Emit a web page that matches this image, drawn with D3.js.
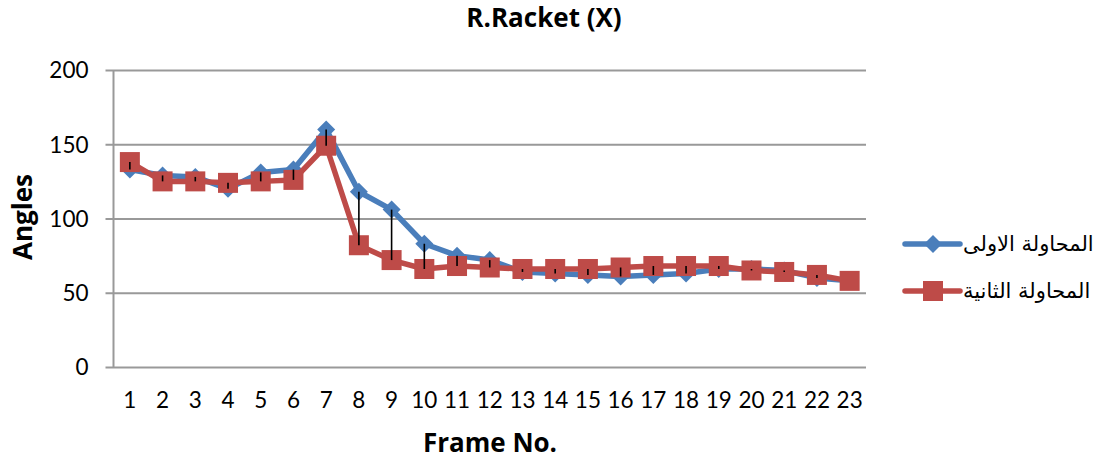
<!DOCTYPE html>
<html>
<head>
<meta charset="utf-8">
<script src="https://cdn.jsdelivr.net/npm/d3@7"></script>
<style>
  html, body { margin: 0; padding: 0; background: #fff; }
  svg { display: block; font-family: Lato, "DejaVu Sans", sans-serif; }
</style>
</head>
<body>
<svg id="chart" width="1098" height="461"></svg>
<script>
// Frame numbers along the x axis
const frames = d3.range(1, 24).map(String);

// Right racket angle (X) per frame, first and second attempt
const attempt1 = [133, 129, 128, 120, 131, 133, 160, 118, 106, 83, 75, 72, 64, 63, 62, 61, 62, 63, 66, 66, 65, 60, 58];
const attempt2 = [138, 125, 125, 124, 125, 126, 149, 82, 72, 66, 68, 67, 66, 66, 66, 67, 68, 68, 68, 65, 64, 62, 58];

const seriesNames = ["المحاولة الاولى", "المحاولة الثانية"];
const yTicks = [0, 50, 100, 150, 200];

const titleText = "R.Racket (X)";
const xTitle = "Frame No.";
const yTitle = "Angles";

const svg = d3.select("#chart");

const x = d3.scaleBand().domain(frames).range([113.5, 866]);
const y = d3.scaleLinear().domain([0, 200]).range([367, 70]);
const cx = d => x(d) + x.bandwidth() / 2;

const gridColor = "#999999";
const blue = "#4A7EBB";
const red = "#BE4B48";
const boldFont = "'Open Sans', Lato, sans-serif";

// horizontal gridlines with outward tick stubs
const yAxis = d3.axisLeft(y).tickValues(yTicks).tickSize(0).tickPadding(0);
const gy = svg.append("g").attr("transform", "translate(113.5,0)").call(yAxis);
gy.select(".domain").remove();
gy.selectAll(".tick line")
  .attr("x1", -8).attr("x2", 866 - 113.5)
  .attr("stroke", gridColor).attr("stroke-width", 2);
gy.selectAll(".tick text")
  .attr("x", -25).attr("dy", "0.35em")
  .attr("font-size", 22.5).attr("fill", "#000")
  .attr("font-family", "Lato, sans-serif")
  .attr("text-anchor", "end");

// vertical axis line
svg.append("line")
  .attr("x1", 113.5).attr("x2", 113.5)
  .attr("y1", y(200)).attr("y2", y(0))
  .attr("stroke", gridColor).attr("stroke-width", 2);

// category labels
const xAxis = d3.axisBottom(x).tickSize(0).tickPadding(0);
const gx = svg.append("g").attr("transform", "translate(0,367)").call(xAxis);
gx.select(".domain").remove();
gx.selectAll(".tick text")
  .attr("y", 41).attr("dy", 0)
  .attr("font-size", 22.5).attr("fill", "#000")
  .attr("font-family", "Lato, sans-serif");

// series lines
const line = d3.line().x((d, i) => cx(frames[i])).y(d => y(d));

svg.append("path").datum(attempt1)
  .attr("d", line).attr("fill", "none")
  .attr("stroke", blue).attr("stroke-width", 5.5).attr("stroke-linejoin", "round");

svg.selectAll(".m1").data(attempt1).enter().append("path")
  .attr("class", "m1")
  .attr("transform", (d, i) => `translate(${cx(frames[i])},${y(d)})`)
  .attr("d", "M0,-9L9,0L0,9L-9,0Z")
  .attr("fill", blue);

svg.append("path").datum(attempt2)
  .attr("d", line).attr("fill", "none")
  .attr("stroke", red).attr("stroke-width", 5.5).attr("stroke-linejoin", "round");

svg.selectAll(".m2").data(attempt2).enter().append("rect")
  .attr("class", "m2")
  .attr("x", (d, i) => cx(frames[i]) - 10)
  .attr("y", d => y(d) - 10)
  .attr("width", 20).attr("height", 20)
  .attr("fill", red);

// high-low lines joining the two attempts at each frame
svg.selectAll(".hl").data(frames).enter().append("line")
  .attr("class", "hl")
  .attr("x1", d => cx(d)).attr("x2", d => cx(d))
  .attr("y1", (d, i) => y(attempt1[i]))
  .attr("y2", (d, i) => y(attempt2[i]))
  .attr("stroke", "#000").attr("stroke-width", 1.6);

// title and axis titles
svg.append("text")
  .attr("x", 544).attr("y", 27)
  .attr("text-anchor", "middle")
  .attr("font-family", boldFont)
  .attr("font-size", 26).attr("font-weight", "bold")
  .text(titleText);

svg.append("text")
  .attr("x", 490).attr("y", 452)
  .attr("text-anchor", "middle")
  .attr("font-family", boldFont)
  .attr("font-size", 26).attr("font-weight", "bold")
  .text(xTitle);

svg.append("text")
  .attr("transform", "translate(32,217) rotate(-90)")
  .attr("text-anchor", "middle")
  .attr("font-family", boldFont)
  .attr("font-size", 26).attr("font-weight", "bold")
  .text(yTitle);

// legend
const legendRows = [
  { name: seriesNames[0], color: blue, y: 244, shape: "diamond" },
  { name: seriesNames[1], color: red, y: 291, shape: "square" }
];
const lg = svg.append("g");
legendRows.forEach(r => {
  lg.append("line")
    .attr("x1", 905).attr("x2", 960)
    .attr("y1", r.y).attr("y2", r.y)
    .attr("stroke", r.color).attr("stroke-width", 5.5)
    .attr("stroke-linecap", "round");
  if (r.shape === "diamond") {
    lg.append("path")
      .attr("transform", `translate(933,${r.y})`)
      .attr("d", "M0,-9L9,0L0,9L-9,0Z")
      .attr("fill", r.color);
  } else {
    lg.append("rect")
      .attr("x", 923).attr("y", r.y - 10)
      .attr("width", 20).attr("height", 20)
      .attr("fill", r.color);
  }
  lg.append("text")
    .attr("x", 963).attr("y", r.y).attr("dy", "0.35em")
    .attr("font-size", 21)
    .attr("font-family", "'DejaVu Sans', sans-serif")
    .text(r.name);
});
</script>
</body>
</html>
